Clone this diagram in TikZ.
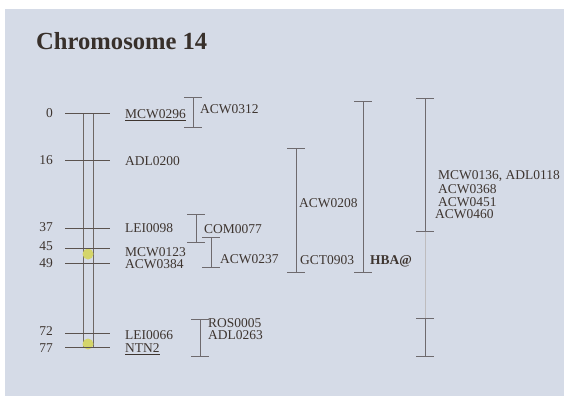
\documentclass[tikz,border=0pt]{standalone}
\usepackage{fontspec}
\setmainfont{Liberation Serif}
\usetikzlibrary{arrows.meta}
\definecolor{bg}{HTML}{D5DBE7}
\definecolor{ink}{HTML}{3E3530}
\definecolor{barc}{HTML}{6E6A6E}
\definecolor{dotc}{HTML}{D4D56A}
\begin{document}
\begin{tikzpicture}[x=0.03cm,y=-0.03cm,
  lab/.style={anchor=west,inner sep=0pt,text depth=0pt,text=ink,font=\fontsize{11.5}{12}\selectfont},
  num/.style={anchor=east,inner sep=0pt,text depth=0pt,text=ink,font=\fontsize{11.5}{12}\selectfont},
  tickline/.style={draw=ink!85,line width=0.8pt},
  chromline/.style={draw=ink!75,line width=0.75pt},
  ibar/.style={draw=barc,line width=0.75pt,{Bar[width=15pt,line width=0.75pt]}-{Bar[width=15pt,line width=0.75pt]}},
  faint/.style={draw=barc!45,line width=0.5pt},
  yellowdot/.style={fill=dotc,draw=none}
]
\useasboundingbox (0,0) rectangle (567,396);
\fill[white] (0,0) rectangle (567,396);
\fill[bg] (5,9) rectangle (564,396);

\node[anchor=west,inner sep=0pt,text=ink!90!black,font=\fontsize{21}{24}\bfseries\selectfont] (title) at (36,41) {Chromosome 14};

% chromosome
\coordinate (chLt) at (83,113); \coordinate (chLb) at (83,347);
\coordinate (chRt) at (93,113); \coordinate (chRb) at (93,347);
\draw[chromline] (chLt) -- (chLb);
\draw[chromline] (chRt) -- (chRb);
\fill[yellowdot] (88,254) circle (5.5);
\fill[yellowdot] (88,344) circle (5.5);

\foreach \nm/\yy in {t0/113,t16/160,t37/228,t45/248,t49/263,t72/333,t77/347}{
  \coordinate (\nm a) at (65,\yy); \coordinate (\nm b) at (110,\yy);
  \draw[tickline] (\nm a) -- (\nm b);
}

% numbers
\node[num] (n0) at (53,113) {0};
\node[num] (n16) at (53,160) {16};
\node[num] (n37) at (53,227) {37};
\node[num] (n45) at (53,246) {45};
\node[num] (n49) at (53,263) {49};
\node[num] (n72) at (53,331) {72};
\node[num] (n77) at (53,348) {77};

% markers
\node[lab] (m1) at (125,114) {\underline{MCW0296}};
\node[lab] (m2) at (125,161) {ADL0200};
\node[lab] (m3) at (125,228) {LEI0098};
\node[lab] (m4) at (125,252) {MCW0123};
\node[lab] (m5) at (125,264) {ACW0384};
\node[lab] (m6) at (125,335) {LEI0066};
\node[lab] (m7) at (125,348) {\underline{NTN2}};

% interval bars
\coordinate (b1t) at (193,97);  \coordinate (b1b) at (193,128);
\draw[ibar] (b1t) -- (b1b);
\node[lab] (l1) at (200,109) {ACW0312};

\coordinate (b2t) at (196,214); \coordinate (b2b) at (196,243);
\draw[ibar] (b2t) -- (b2b);
\node[lab] (l2) at (204,229) {COM0077};

\coordinate (b3t) at (211,237); \coordinate (b3b) at (211,268);
\draw[ibar] (b3t) -- (b3b);
\node[lab] (l3) at (220,259) {ACW0237};

\coordinate (b4t) at (200,319); \coordinate (b4b) at (200,357);
\draw[ibar] (b4t) -- (b4b);
\node[lab] (l4a) at (208,323) {ROS0005};
\node[lab] (l4b) at (208,335) {ADL0263};

\coordinate (b5t) at (296,148); \coordinate (b5b) at (296,273);
\draw[ibar] (b5t) -- (b5b);
\node[lab] (l5a) at (299,203) {ACW0208};
\node[lab] (l5b) at (300,260) {GCT0903};

\coordinate (b6t) at (363,101); \coordinate (b6b) at (363,273);
\draw[ibar] (b6t) -- (b6b);
\node[lab,font=\fontsize{11.5}{12}\bfseries\selectfont] (l6) at (370,260) {HBA@};

\coordinate (b7t) at (425,98); \coordinate (b7b) at (425,232);
\coordinate (b8t) at (425,318); \coordinate (b8b) at (425,357);
\draw[faint] (b7b) -- (b8t);
\draw[ibar] (b7t) -- (b7b);
\draw[ibar] (b8t) -- (b8b);
\node[lab] (l7a) at (438,175) {MCW0136, ADL0118};
\node[lab] (l7b) at (438,189) {ACW0368};
\node[lab] (l7c) at (438,202) {ACW0451};
\node[lab] (l7d) at (435,214) {ACW0460};
\end{tikzpicture}
\end{document}
